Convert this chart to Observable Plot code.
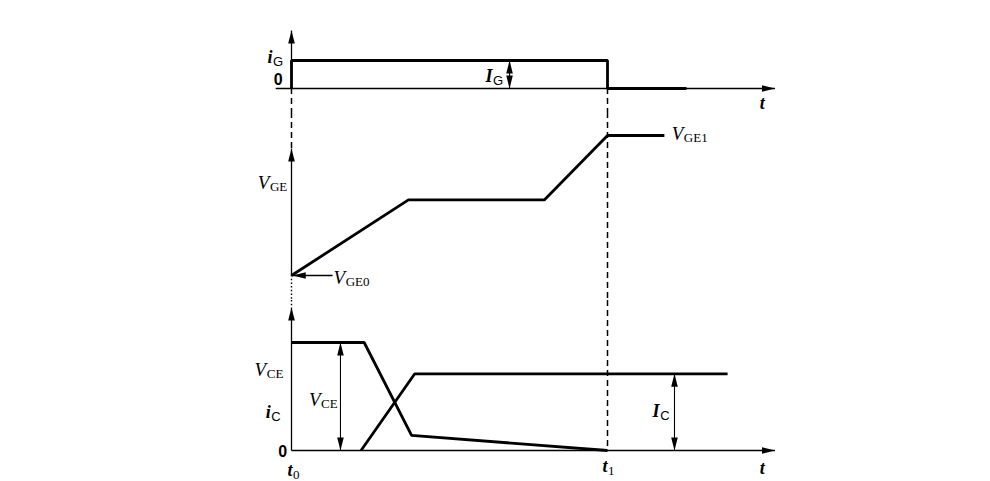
<!DOCTYPE html>
<html>
<head>
<meta charset="utf-8">
<script src="https://cdn.jsdelivr.net/npm/d3@7"></script>
<script src="https://cdn.jsdelivr.net/npm/@observablehq/plot@0.6"></script>
<style>
  html, body { margin: 0; padding: 0; background: #fff; }
  #chart svg { display: block; }
</style>
</head>
<body>
<div id="chart"></div>
<script>
// ---------------- data (time normalised: t0 = 0, t1 = 100) ----------------
const timeMarks = [0, 100];                 // t0, t1
const timeMarkSubs = ["0", "1"];
// gate current i_G (I_G = 1)
const iGTime  = [0, 0, 100, 100, 125];
const iGValue = [0, 1, 1, 0, 0];
// gate-emitter voltage (V_GE0 = 0, V_GE1 = 1)
const vGETime  = [0, 37, 80, 100, 118];
const vGEValue = [0, 0.54, 0.54, 1, 1];
// collector-emitter voltage (off-state V_CE = 1)
const vCETime  = [0, 23, 38, 100];
const vCEValue = [1, 1, 0.14, 0];
// collector current i_C
const iCTime  = [22, 39, 138];
const iCValue = [0, 0.71, 0.71];

// label texts
const topLabels = [
  {kind: "I", main: "i", sub: "G", t: -6.0, v: 1.11},
  {kind: "I", main: "I", sub: "G", t: 63.6, v: 0.43},
  {kind: "zero", main: "0", sub: "", t: -4.2, v: 0.30},
  {kind: "tt", main: "t", sub: "", t: 149, v: -0.54}
];
const midLabels = [
  {kind: "V", main: "V", sub: "GE", t: -7.0, v: 0.66},
  {kind: "V", main: "V", sub: "GE0", t: 17.0, v: -0.02},
  {kind: "V", main: "V", sub: "GE1", t: 124.0, v: 1.01}
];
const botLabels = [
  {kind: "V", main: "V", sub: "CE", t: -8.0, v: 0.75},
  {kind: "V", main: "V", sub: "CE", t: 9.2, v: 0.47},
  {kind: "I", main: "i", sub: "C", t: -6.6, v: 0.35},
  {kind: "I", main: "I", sub: "C", t: 116.5, v: 0.36},
  {kind: "zero", main: "0", sub: "", t: -2.8, v: -0.01},
  {kind: "t", main: "t", sub: timeMarkSubs[0], t: timeMarks[0] + 0.3, v: -0.185},
  {kind: "t", main: "t", sub: timeMarkSubs[1], t: timeMarks[1], v: -0.15},
  {kind: "tt", main: "t", sub: "", t: 149, v: -0.16}
];

// ---------------- helpers ----------------
const SERIF = "'Liberation Serif', 'DejaVu Serif', serif";
const SANS = "'Liberation Sans', 'DejaVu Sans', sans-serif";

function headSymbol(dx, dy, L = 13, W = 3.3) {
  return {
    draw(ctx) {
      const px = -dy, py = dx;
      ctx.moveTo(0, 0);
      ctx.lineTo(-dx * L + px * W, -dy * L + py * W);
      ctx.lineTo(-dx * L - px * W, -dy * L - py * W);
      ctx.closePath();
    }
  };
}
const SYM = {
  up: headSymbol(0, -1), down: headSymbol(0, 1),
  left: headSymbol(-1, 0), right: headSymbol(1, 0)
};
function dirOf(x1, y1, x2, y2) {
  if (x1 === x2) return y2 > y1 ? "up" : "down";
  return x2 > x1 ? "right" : "left";
}
function arrowMarks(list, strokeWidth) {
  const marks = [Plot.link(list, {x1: "x1", y1: "y1", x2: "x2", y2: "y2", stroke: "black", strokeWidth})];
  const heads = [];
  for (const a of list) {
    heads.push({x: a.x2, y: a.y2, dir: dirOf(a.x1, a.y1, a.x2, a.y2)});
    if (a.both) heads.push({x: a.x1, y: a.y1, dir: dirOf(a.x2, a.y2, a.x1, a.y1)});
  }
  for (const [dir, symbol] of Object.entries(SYM)) {
    const h = heads.filter(d => d.dir === dir);
    if (h.length) marks.push(Plot.dot(h, {x: "x", y: "y", symbol, fill: "black", stroke: "none"}));
  }
  return marks;
}
function seriesLine(ts, vs) {
  return Plot.line(ts.map((t, i) => ({t, v: vs[i]})), {
    x: "t", y: "v", stroke: "black", strokeWidth: 2.8,
    strokeLinejoin: "miter", strokeLinecap: "butt"
  });
}
const LABEL_STYLE = {
  V:    {main: {fontFamily: SERIF, fontStyle: "italic", fontSize: 19}, sub: {fontFamily: SERIF, fontSize: 13}},
  I:    {main: {fontFamily: SERIF, fontStyle: "italic", fontWeight: "bold", fontSize: 18}, sub: {fontFamily: SANS, fontSize: 13}},
  t:    {main: {fontFamily: SERIF, fontStyle: "italic", fontWeight: "bold", fontSize: 18}, sub: {fontFamily: SERIF, fontSize: 13}},
  tt:   {main: {fontFamily: SERIF, fontStyle: "italic", fontWeight: "bold", fontSize: 18}},
  zero: {main: {fontFamily: SANS, fontWeight: "bold", fontSize: 16}}
};
function labelMarks(list) {
  const out = [];
  for (const [kind, st] of Object.entries(LABEL_STYLE)) {
    const items = list.filter(d => d.kind === kind);
    if (!items.length) continue;
    if (st.sub) {
      out.push(Plot.text(items, {x: "t", y: "v", text: "main", textAnchor: "end", lineAnchor: "middle", ...st.main}));
      out.push(Plot.text(items, {x: "t", y: "v", text: "sub", textAnchor: "start", lineAnchor: "middle", dy: 4, dx: 0.5, ...st.sub}));
    } else {
      out.push(Plot.text(items, {x: "t", y: "v", text: "main", textAnchor: "middle", lineAnchor: "middle", ...st.main}));
    }
  }
  return out;
}

const W = 990;
function edges(p) {
  const [d0, d1] = p.domain;
  const k = (d1 - d0) / (p.height - p.marginTop - p.marginBottom);
  return {top: d1 + k * p.marginTop, bottom: d0 - k * p.marginBottom};
}
function panel(p, marks) {
  return Plot.plot({
    width: W, height: p.height,
    marginLeft: 291, marginRight: 383, marginTop: p.marginTop, marginBottom: p.marginBottom,
    x: {domain: [timeMarks[0], timeMarks[1]], axis: null},
    y: {domain: p.domain, axis: null},
    style: {background: "white", overflow: "visible"},
    marks
  });
}
const DASH = {stroke: "black", strokeWidth: 1.5, strokeDasharray: "6,4"};
const DOT = {stroke: "black", strokeWidth: 1.4, strokeDasharray: "1.5,2.2"};

// ---------------- panel 1: gate current ----------------
const P1 = {height: 112, marginTop: 60, marginBottom: 24, domain: [0, 1]};
const e1 = edges(P1);
const plot1 = panel(P1, [
  Plot.ruleX(timeMarks, {x: d => d, y1: 0, y2: e1.bottom, ...DASH}),
  ...arrowMarks([
    {x1: -5, y1: 0, x2: 153, y2: 0},
    {x1: 0, y1: 0, x2: 0, y2: 2.07}
  ], 1.3),
  seriesLine(iGTime, iGValue),
  ...arrowMarks([{x1: 69, y1: 0, x2: 69, y2: iGValue[1], both: true}], 1.1),
  ...labelMarks(topLabels)
]);

// ---------------- panel 2: gate-emitter voltage ----------------
const P2 = {height: 188, marginTop: 23, marginBottom: 25, domain: [0, 1]};
const e2 = edges(P2);
const plot2 = panel(P2, [
  Plot.ruleX([timeMarks[0]], {x: d => d, y1: e2.top, y2: 0.907, ...DASH}),
  Plot.ruleX([timeMarks[0]], {x: d => d, y1: 0, y2: e2.bottom, ...DOT}),
  Plot.ruleX([timeMarks[1]], {x: d => d, y1: e2.top, y2: e2.bottom, ...DASH}),
  ...arrowMarks([{x1: 0, y1: 0, x2: 0, y2: 0.907}], 1.3),
  seriesLine(vGETime, vGEValue),
  ...arrowMarks([{x1: 13.0, y1: vGEValue[0], x2: 0.4, y2: vGEValue[0]}], 1.3),
  ...labelMarks(midLabels)
]);

// ---------------- panel 3: collector voltage / current ----------------
const P3 = {height: 181, marginTop: 42, marginBottom: 31, domain: [0, 1]};
const e3 = edges(P3);
const plot3 = panel(P3, [
  Plot.ruleX([timeMarks[0]], {x: d => d, y1: e3.top, y2: 1.324, ...DOT}),
  Plot.ruleX([timeMarks[1]], {x: d => d, y1: e3.top, y2: 0, ...DASH}),
  ...arrowMarks([
    {x1: 0, y1: 0, x2: 153, y2: 0},
    {x1: 0, y1: 0, x2: 0, y2: 1.324}
  ], 1.3),
  seriesLine(vCETime, vCEValue),
  seriesLine(iCTime, iCValue),
  ...arrowMarks([
    {x1: 15.5, y1: 0, x2: 15.5, y2: vCEValue[0], both: true},
    {x1: 121.2, y1: 0, x2: 121.2, y2: iCValue[2], both: true}
  ], 1.1),
  ...labelMarks(botLabels)
]);

const chart = document.getElementById("chart");
chart.append(plot1, plot2, plot3);
</script>
</body>
</html>
